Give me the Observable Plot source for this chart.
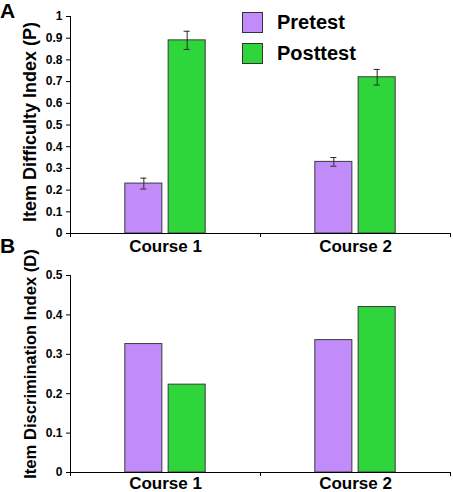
<!DOCTYPE html>
<html>
<head>
<meta charset="utf-8">
<script src="https://cdn.jsdelivr.net/npm/d3@7"></script>
<script src="https://cdn.jsdelivr.net/npm/@observablehq/plot@0.6"></script>
<style>
  body { margin: 0; background: #fff; }
  #root { position: relative; width: 453px; height: 492px; font-family: "Liberation Sans", Arial, sans-serif; font-weight: bold; color: #000; background: #fff; }
  #root svg { display: block; }
  .panel-letter { position: absolute; left: 0; font-size: 21px; line-height: 21px; font-weight: bold; }
  .legend { position: absolute; left: 242px; top: 12px; }
  .legend-row { display: flex; align-items: center; height: 21px; margin-bottom: 10px; }
  .swatch { width: 19px; height: 19px; border: 1px solid #333; margin-right: 14px; }
  .legend-label { font-size: 20px; line-height: 21px; }
</style>
</head>
<body>
<div id="root">
  <div id="panelA"></div>
  <div id="panelB"></div>
  <div class="panel-letter" style="top:0px">A</div>
  <div class="panel-letter" style="top:235px">B</div>
  <div class="legend" id="legend"></div>
</div>
<script>
// ---- data ----
const courses = ["Course 1", "Course 2"];
const groups = ["Pretest", "Posttest"];
const groupColors = ["#c18cfa", "#2ed63c"];

const difficultyPretest = [0.23, 0.33];
const difficultyPosttest = [0.89, 0.72];
const difficultyPretestErr = [0.025, 0.02];
const difficultyPosttestErr = [0.042, 0.036];

const discriminationPretest = [0.326, 0.336];
const discriminationPosttest = [0.223, 0.42];

const yTicksA = [0, 0.1, 0.2, 0.3, 0.4, 0.5, 0.6, 0.7, 0.8, 0.9, 1];
const yTicksB = [0, 0.1, 0.2, 0.3, 0.4, 0.5];
const yTitleA = "Item Difficulty Index (P)";
const yTitleB = "Item Discrimination Index (D)";

// ---- layout (in course units) ----
const barW = 0.195, gap = 0.033, capHalf = 0.016;
const font = "Liberation Sans, Arial, sans-serif";

function buildRows(pre, post, preErr, postErr) {
  const vals = [pre, post], errs = [preErr, postErr];
  return courses.flatMap((c, i) => groups.map((g, j) => ({
    course: c, i, j, group: g,
    value: vals[j][i],
    err: errs[j] ? errs[j][i] : null
  })));
}
const x1Of = d => d.i + 0.5 + (d.j === 0 ? -gap / 2 - barW : gap / 2);
const x2Of = d => x1Of(d) + barW;
const cxOf = d => x1Of(d) + barW / 2;
const fmt = d => String(+d.toFixed(2));

function panel({rows, yMax, yTicks, title, titleSize, titleDy, height, marginTop, marginBottom, labelPad, withErr}) {
  const marks = [
    Plot.rect(rows, {x1: x1Of, x2: x2Of, y1: 0, y2: "value", fill: "group", stroke: "#3a3a3a", strokeWidth: 1}),
  ];
  if (withErr) {
    const er = rows.filter(d => d.err != null);
    marks.push(
      Plot.ruleX(er, {x: cxOf, y1: d => d.value - d.err, y2: d => d.value + d.err, stroke: "#2a2a2a", strokeWidth: 1}),
      Plot.ruleY(er, {x1: d => cxOf(d) - capHalf, x2: d => cxOf(d) + capHalf, y: d => d.value + d.err, stroke: "#2a2a2a", strokeWidth: 1}),
      Plot.ruleY(er, {x1: d => cxOf(d) - capHalf, x2: d => cxOf(d) + capHalf, y: d => d.value - d.err, stroke: "#2a2a2a", strokeWidth: 1})
    );
  }
  marks.push(
    Plot.ruleX([0], {stroke: "#000", strokeWidth: 1}),
    Plot.ruleY([0], {stroke: "#000", strokeWidth: 1}),
    Plot.axisY({ticks: yTicks, tickSize: 4, tickPadding: 4, tickFormat: fmt, fontSize: 12, fontWeight: "bold", label: null, stroke: "#000"}),
    Plot.axisX({ticks: d3.range(courses.length + 1), tickSize: 4, tickFormat: () => "", label: null, stroke: "#000"}),
    Plot.axisX({ticks: courses.map((c, i) => i + 0.5), tickSize: 0, tickPadding: labelPad, tickFormat: v => courses[Math.floor(v)], fontSize: 17, fontWeight: "bold", label: null}),
    Plot.text([title], {frameAnchor: "left", textAnchor: "middle", rotate: -90, dx: -40, dy: titleDy, fontSize: titleSize, fontWeight: "bold", fill: "#000"})
  );
  return Plot.plot({
    width: 453, height, marginLeft: 70, marginRight: 3, marginTop, marginBottom,
    style: {fontFamily: font, fontWeight: "bold", background: "transparent", color: "#000", overflow: "visible"},
    x: {domain: [0, courses.length]},
    y: {domain: [0, yMax]},
    color: {domain: groups, range: groupColors},
    marks
  });
}

document.getElementById("panelA").append(panel({
  rows: buildRows(difficultyPretest, difficultyPosttest, difficultyPretestErr, difficultyPosttestErr),
  yMax: 1, yTicks: yTicksA, title: yTitleA, titleSize: 18, titleDy: -3,
  height: 256, marginTop: 16, marginBottom: 23, labelPad: 6, withErr: true
}));
document.getElementById("panelB").append(panel({
  rows: buildRows(discriminationPretest, discriminationPosttest, null, null),
  yMax: 0.5, yTicks: yTicksB, title: yTitleB, titleSize: 16.6, titleDy: -10,
  height: 236, marginTop: 19, marginBottom: 20, labelPad: 4, withErr: false
}));

// legend
const legend = document.getElementById("legend");
groups.forEach((g, k) => {
  const row = document.createElement("div");
  row.className = "legend-row";
  const sw = document.createElement("div");
  sw.className = "swatch";
  sw.style.background = groupColors[k];
  const lab = document.createElement("span");
  lab.className = "legend-label";
  lab.textContent = g;
  row.append(sw, lab);
  legend.append(row);
});
</script>
</body>
</html>
